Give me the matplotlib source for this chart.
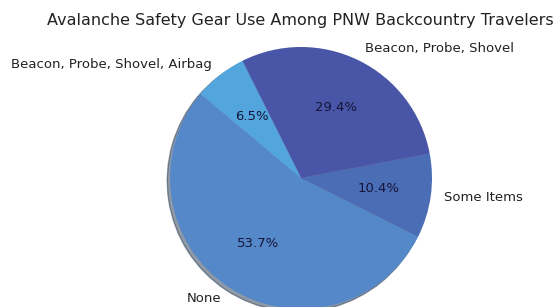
import matplotlib
matplotlib.use("Agg")
import matplotlib.pyplot as plt

# Datos
etiquetas = ["None", "Some Items", "Beacon, Probe, Shovel", "Beacon, Probe, Shovel, Airbag"]
porcentajes = [53.7, 10.4, 29.4, 6.5]
colores = ["#5488c8", "#4a6db5", "#4955a6", "#52a6dd"]

fig = plt.figure(figsize=(5.57, 3.07), dpi=100)
W, H = 557, 307
r = 131
cx, cy = 301, 178
lado = 2.5 * r
ax = fig.add_axes([(cx - lado / 2) / W, (H - cy - lado / 2) / H, lado / W, lado / H])

wedges, textos, pcts = ax.pie(porcentajes, labels=etiquetas, colors=colores,
                              autopct="%1.1f%%", startangle=140,
                              shadow={"ox": -0.015, "oy": -0.015, "shade": 0.6},
                              textprops={"fontsize": 9.5, "color": "#222222"})
for t in pcts:
    t.set_color("#15153a")
ax.set_xlim(-1.25, 1.25)
ax.set_ylim(-1.25, 1.25)
ax.set_aspect("equal")

fig.text(300.5 / W, 1 - 20 / H, "Avalanche Safety Gear Use Among PNW Backcountry Travelers",
         ha="center", va="center", fontsize=11.5, color="#222222")

fig.savefig("out.png", dpi=100)
